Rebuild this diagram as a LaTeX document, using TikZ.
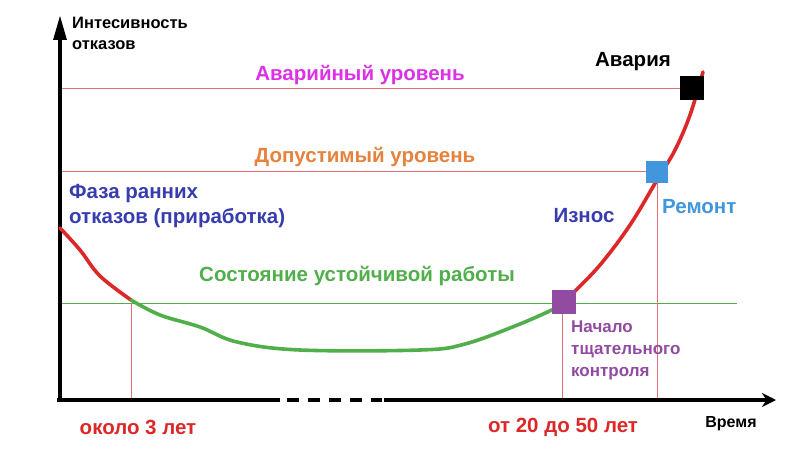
\documentclass[tikz,border=0pt]{standalone}
\usepackage{fontspec}
\setmainfont{Liberation Sans}
\usetikzlibrary{arrows.meta}
\definecolor{cred}{RGB}{220,40,40}
\definecolor{cgreen}{RGB}{80,175,75}
\definecolor{cmag}{RGB}{220,50,230}
\definecolor{corange}{RGB}{230,130,60}
\definecolor{cblue}{RGB}{55,60,175}
\definecolor{cltblue}{RGB}{65,150,220}
\definecolor{cpurple}{RGB}{145,75,160}
\definecolor{cthin}{RGB}{230,110,120}
\begin{document}
\begin{tikzpicture}[x=1pt,y=-1pt,
  lbl/.style={font=\bfseries\fontsize{20.5}{24}\selectfont, inner sep=0},
  sml/.style={inner sep=0, align=left},
  thin/.style={draw=cthin, line width=1pt},
  curve/.style={line width=3.6pt, line cap=round}]
\useasboundingbox (0,0) rectangle (800,457);
\fill[white] (0,0) rectangle (800,457);
% levels
\draw[thin] (60,89) -- (692,89);
\draw[thin] (60,172) -- (657,172);
\draw[draw=cgreen, line width=1pt] (60,303) -- (737,303);
\draw[thin] (131,303) -- (131,400);
\draw[thin] (562,303) -- (562,400);
\draw[thin] (657,172) -- (657,400);
% axes
\draw[line width=4.5pt] (60,402) -- (60,30);
\fill (60,16) -- (53,40) -- (67,40) -- cycle;
\draw[line width=4.5pt] (57,400) -- (280,400);
\draw[line width=4.5pt, dash pattern=on 12pt off 9pt] (287,400) -- (382,400);
\draw[line width=4.5pt, -{Stealth[length=14pt,width=14pt]}] (384,400) -- (776,400);
% curve
\draw[curve, cred] plot[smooth, tension=0.6] coordinates {(60,228) (80,250) (100,276) (131,300)};
\draw[curve, cgreen] plot[smooth, tension=0.6] coordinates {(131,300) (160,315) (200,327) (237,342) (300,350) (420,350) (465,344) (520,324) (556,308)};
\draw[curve, cred] plot[smooth, tension=0.6] coordinates {(572,294) (600,265) (630,225) (657,180) (675,150) (690,115) (703,72)};
% squares
\node[fill=cpurple, minimum size=24pt, inner sep=0] (s1) at (564,302) {};
\node[fill=cltblue, minimum size=22pt, inner sep=0] (s2) at (657,172) {};
\node[fill=black, minimum size=24pt, inner sep=0] (s3) at (692,88) {};
% texts
\node[sml, anchor=north west, font=\bfseries\fontsize{16.5}{21}\selectfont] (ya) at (72,17) {Интесивность\\отказов};
\node[lbl, text=cmag] (t1) at (360,75) {Аварийный уровень};
\node[lbl, text=corange] (t2) at (365,157) {Допустимый уровень};
\node[lbl, text=cblue, anchor=north west, align=left, font=\bfseries\fontsize{20.5}{25}\selectfont] (t3) at (69,184) {Фаза ранних\\отказов (приработка)};
\node[lbl, text=cgreen] (t4) at (357,276) {Состояние устойчивой работы};
\node[lbl, text=cblue] (t5) at (584,216) {Износ};
\node[lbl, text=cltblue, anchor=west] (t6) at (662,207) {Ремонт};
\node[lbl, text=black] (t7) at (633,62) {Авария};
\node[sml, text=cpurple, anchor=north west, font=\bfseries\fontsize{17}{22}\selectfont] (t8) at (571,321) {Начало\\тщательного\\контроля};
\node[lbl, text=cred] (t9) at (138,427) {около 3 лет};
\node[lbl, text=cred] (t10) at (563,427) {от 20 до 50 лет};
\node[sml, font=\bfseries\fontsize{16}{18}\selectfont] (t11) at (731,424) {Время};
\end{tikzpicture}
\end{document}
